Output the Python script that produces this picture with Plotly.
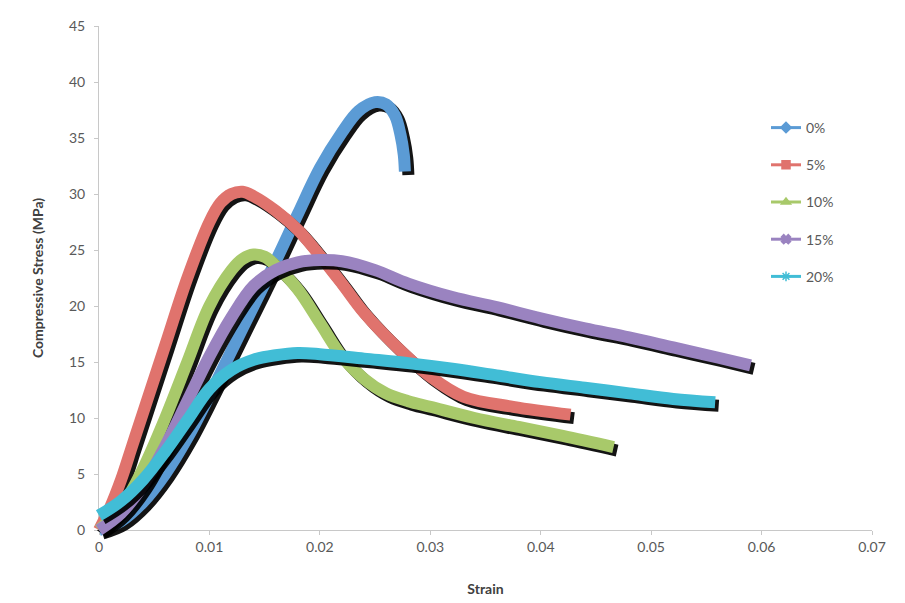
import plotly.graph_objects as go

# ---------------- data ----------------
series_names = ["0%", "5%", "10%", "15%", "20%"]

strain_0 = [0, 0.002, 0.004, 0.006, 0.008, 0.010, 0.012, 0.014, 0.016, 0.018, 0.020, 0.022, 0.0235, 0.025, 0.026, 0.0268, 0.0273, 0.0276, 0.0277]
stress_0 = [0, 0.8, 2.5, 5.0, 8.2, 12.0, 16.0, 20.0, 24.0, 28.2, 32.3, 35.5, 37.4, 38.2, 38.0, 37.0, 35.3, 33.5, 32.0]

strain_5 = [0, 0.001, 0.002, 0.003, 0.004, 0.006, 0.008, 0.010, 0.011, 0.012, 0.013, 0.014, 0.016, 0.018, 0.020, 0.022, 0.024, 0.027, 0.030, 0.033, 0.0375, 0.0427]
stress_5 = [0, 2.0, 4.5, 7.5, 10.5, 16.5, 22.5, 27.5, 29.2, 30.0, 30.2, 29.8, 28.5, 26.8, 24.5, 22.0, 19.4, 16.3, 13.7, 11.9, 11.0, 10.3]

strain_10 = [0, 0.002, 0.004, 0.006, 0.008, 0.010, 0.012, 0.013, 0.014, 0.015, 0.016, 0.018, 0.020, 0.022, 0.024, 0.026, 0.028, 0.030, 0.034, 0.038, 0.042, 0.0466]
stress_10 = [0, 2.0, 5.5, 10.0, 15.0, 20.0, 23.2, 24.2, 24.6, 24.4, 23.6, 21.5, 18.5, 15.5, 13.5, 12.2, 11.5, 11.0, 10.0, 9.2, 8.4, 7.4]

strain_15 = [0, 0.002, 0.004, 0.006, 0.008, 0.010, 0.012, 0.014, 0.016, 0.018, 0.020, 0.022, 0.025, 0.028, 0.032, 0.036, 0.040, 0.044, 0.048, 0.052, 0.056, 0.0590]
stress_15 = [0, 1.5, 4.0, 7.5, 11.5, 15.5, 19.0, 21.8, 23.2, 23.9, 24.1, 24.0, 23.2, 22.0, 20.8, 19.9, 18.9, 18.0, 17.2, 16.3, 15.4, 14.7]

strain_20 = [0, 0.002, 0.004, 0.006, 0.008, 0.010, 0.012, 0.014, 0.016, 0.018, 0.020, 0.024, 0.028, 0.032, 0.036, 0.040, 0.044, 0.048, 0.052, 0.0558]
stress_20 = [1.3, 2.6, 4.5, 7.0, 9.8, 12.6, 14.3, 15.2, 15.6, 15.8, 15.7, 15.3, 14.9, 14.4, 13.8, 13.2, 12.7, 12.2, 11.7, 11.4]

x_ticks = [0, 0.01, 0.02, 0.03, 0.04, 0.05, 0.06, 0.07]
x_tick_labels = ["0", "0.01", "0.02", "0.03", "0.04", "0.05", "0.06", "0.07"]
y_ticks = [0, 5, 10, 15, 20, 25, 30, 35, 40, 45]

# ---------------- styling ----------------
colors = ["#5b9bd5", "#e0736d", "#a8c96a", "#9a83c0", "#41bdd6"]
legend_symbols = ["diamond", "square", "triangle-up", "x", "asterisk-open"]
FONT = "Lato"
TICK_COLOR = "#595959"

OFF = 8                                  # page body margin
W, H = 905 - OFF, 603 - OFF
# all pixel positions below are in figure coordinates (window px - OFF)
L, R, T, B = 84 - OFF, 875 - OFF, 20 - OFF, 545 - OFF   # paper area
X0, X1 = 99 - OFF, 872 - OFF                            # visible x axis span
YT, YB = 26 - OFF, 530 - OFF                            # visible y axis span
sx = (X1 - X0) / 0.07
sy = (YB - YT) / 45.0
SHADOW = 3.5

def xr(shift):
    return [(L - shift - X0) / sx, (R - shift - X0) / sx]

def yr(shift):
    return [(YB + shift - B) / sy, (YB + shift - T) / sy]

xs = [strain_0, strain_5, strain_10, strain_15, strain_20]
ys = [stress_0, stress_5, stress_10, stress_15, stress_20]

fig = go.Figure()
layout_axes = {}
ax = 2
for i, name in enumerate(series_names):
    for kind in ("shadow", "line"):
        shift = SHADOW if kind == "shadow" else 0
        xa, ya = f"x{ax}", f"y{ax}"
        fig.add_trace(go.Scatter(
            x=xs[i], y=ys[i], mode="lines", xaxis=xa, yaxis=ya,
            line=dict(color="rgba(0,0,0,0.92)" if kind == "shadow" else colors[i],
                      width=12, shape="spline", smoothing=1.0),
            showlegend=False, hoverinfo="skip" if kind == "shadow" else None,
            name=name,
        ))
        layout_axes[f"xaxis{ax}"] = dict(range=xr(shift), visible=False, showgrid=False,
                                         zeroline=False, domain=[0, 1], anchor=ya)
        layout_axes[f"yaxis{ax}"] = dict(range=yr(shift), visible=False, showgrid=False,
                                         zeroline=False, domain=[0, 1], anchor=xa)
        ax += 1

# legend-only entries on the visible axes
for i, name in enumerate(series_names):
    fig.add_trace(go.Scatter(
        x=[None], y=[None], mode="lines+markers", name=name,
        legendgroup=name,
        line=dict(color=colors[i], width=3),
        marker=dict(symbol=legend_symbols[i], size=8, color=colors[i],
                    line=dict(color=colors[i], width=1.5)),
    ))

fig.update_layout(
    width=W, height=H,
    margin=dict(l=L, r=W - R, t=T, b=H - B, autoexpand=False),
    paper_bgcolor="white", plot_bgcolor="rgba(0,0,0,0)",
    font=dict(family=FONT, color=TICK_COLOR, size=14),
    xaxis=dict(domain=[(X0 - L) / (R - L), (X1 - L) / (R - L)], range=[0, 0.07],
               tickvals=x_ticks, ticktext=x_tick_labels,
               showline=True, linecolor="#c8c8c8", linewidth=1,
               ticks="outside", ticklen=4, tickcolor="#c8c8c8",
               showgrid=False, zeroline=False,
               tickfont=dict(size=14, color=TICK_COLOR),
               title=dict(text="<b>Strain</b>", font=dict(size=14, color="#404040"), standoff=30)),
    yaxis=dict(domain=[(B - YB) / (B - T), (B - YT) / (B - T)], range=[0, 45],
               tickvals=y_ticks, ticklabelstandoff=6,
               showline=True, linecolor="#c8c8c8", linewidth=1,
               ticks="outside", ticklen=4, tickcolor="#c8c8c8",
               showgrid=False, zeroline=False,
               tickfont=dict(size=14, color=TICK_COLOR),
               title=dict(text="<b>Compressive Stress (MPa)</b>", font=dict(size=14, color="#404040"), standoff=22)),
    legend=dict(x=(766 - OFF - L) / (R - L), y=(B - (112 - OFF)) / (B - T), xanchor="left", yanchor="top",
                tracegroupgap=16, font=dict(size=14, color=TICK_COLOR),
                bgcolor="rgba(0,0,0,0)", itemwidth=30),
    showlegend=True,
    **layout_axes,
)

fig.write_html("out.html")
